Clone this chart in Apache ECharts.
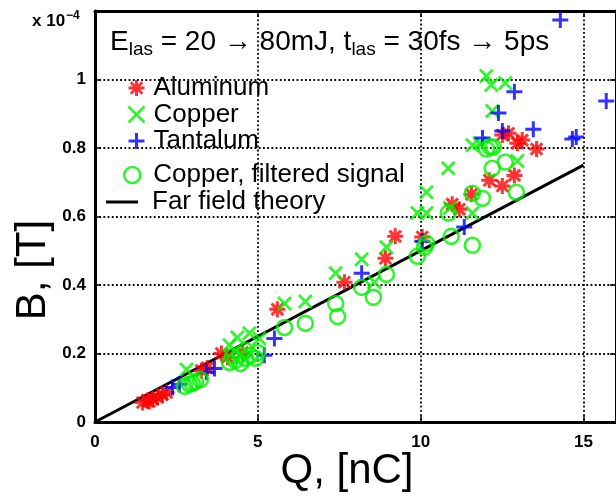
<!DOCTYPE html>
<html>
<head>
<meta charset="utf-8">
<script src="https://cdn.jsdelivr.net/npm/echarts@6/dist/echarts.min.js"></script>
<style>
  html, body { margin: 0; padding: 0; background: #fff; }
  #chart { width: 616px; height: 499px; }
</style>
</head>
<body>
<div id="chart"></div>
<script>
// Charge Q [nC] and field B [x 1e-4 T] per target material
const aluminumQ = [1.46, 1.61, 1.67, 1.77, 1.92, 2.07, 2.20, 3.27, 3.45, 3.88, 4.07, 4.53,
  5.60, 7.66, 8.92, 9.22, 10.05, 10.97, 11.19, 11.56, 12.11, 12.51, 12.88, 12.51, 12.70, 12.97, 13.12, 13.56];
const aluminumB = [0.057, 0.063, 0.060, 0.066, 0.072, 0.080, 0.086, 0.150, 0.158, 0.200, 0.189, 0.203,
  0.329, 0.408, 0.478, 0.542, 0.540, 0.636, 0.621, 0.665, 0.706, 0.689, 0.720, 0.838, 0.843, 0.814, 0.823, 0.797];

const copperQ = [2.81, 4.13, 4.37, 4.74, 5.05, 5.82, 6.46, 7.39, 8.19, 8.58, 8.95,
  9.90, 10.18, 10.18, 10.90, 10.85, 11.59, 11.59, 11.81, 12.02, 12.17, 12.60, 12.20, 12.97];
const copperB = [0.153, 0.224, 0.247, 0.259, 0.244, 0.346, 0.352, 0.434, 0.475, 0.408, 0.510,
  0.610, 0.610, 0.671, 0.625, 0.741, 0.610, 0.808, 0.814, 1.010, 0.984, 0.990, 0.908, 0.762];

const tantalumQ = [2.38, 2.59, 3.42, 3.67, 5.20, 5.51, 8.19, 10.05, 11.34,
  11.90, 12.39, 12.51, 12.88, 13.46, 14.29, 14.66, 14.78, 15.70];
const tantalumB = [0.101, 0.110, 0.145, 0.156, 0.195, 0.244, 0.434, 0.528, 0.569,
  0.829, 0.902, 0.850, 0.964, 0.855, 1.174, 0.826, 0.832, 0.937];

const filteredQ = [2.75, 2.90, 2.99, 3.09, 3.24, 4.13, 4.22, 4.31, 4.44, 4.47, 4.62, 4.62, 4.77, 4.93, 4.99,
  5.82, 6.46, 7.39, 7.45, 8.19, 8.55, 8.95, 9.90, 10.12, 10.18, 10.85, 10.94, 11.59, 11.59, 11.90,
  12.20, 12.60, 12.94, 12.02, 12.14, 12.23];
const filteredB = [0.104, 0.110, 0.113, 0.118, 0.124, 0.174, 0.191, 0.180, 0.197, 0.171, 0.186, 0.209, 0.194, 0.186, 0.203,
  0.276, 0.288, 0.346, 0.308, 0.393, 0.364, 0.431, 0.484, 0.510, 0.522, 0.610, 0.542, 0.516, 0.668, 0.653,
  0.741, 0.759, 0.671, 0.797, 0.803, 0.803];

// Far field theory: straight line through the origin
const theoryQ = [0, 15];
const theoryB = [0, 0.75];

const xTicks = [0, 5, 10, 15];
const yTicks = [0, 0.2, 0.4, 0.6, 0.8, 1];

const zip = (a, b) => a.map((v, i) => [v, b[i]]);

// Stroked marker shapes
const STAR = 'path://M0,-1L0,1M-1,0L1,0M-0.72,-0.72L0.72,0.72M-0.72,0.72L0.72,-0.72';
const CROSS = 'path://M-1,-1L1,1M-1,1L1,-1';
const PLUS = 'path://M0,-1L0,1M-1,0L1,0';

const RED = '#ff0000', GREEN = '#00f000', BLUE = '#0000ff';
const FONT = '"Liberation Sans", Arial, sans-serif';

const tickStyle = { show: true, inside: true, length: 6, lineStyle: { color: '#000', width: 1.5 } };
const frameLine = { show: true, onZero: false, lineStyle: { color: '#000', width: 3 } };
const dotted = { show: true, lineStyle: { color: '#000', width: 1.8, type: [1.8, 2.4] } };

const chart = echarts.init(document.getElementById('chart'), null, { renderer: 'canvas' });

chart.setOption({
  animation: false,
  backgroundColor: '#fff',
  grid: { left: 95, top: 11, width: 522, height: 411, containLabel: false },
  xAxis: [{
    type: 'value', min: 0, max: 16, interval: 5, position: 'bottom',
    axisLine: frameLine, axisTick: tickStyle, splitLine: dotted,
    axisLabel: {
      showMaxLabel: false, margin: 12, color: '#000', fontFamily: FONT, fontWeight: 'bold', fontSize: 17,
      formatter: v => (xTicks.indexOf(v) >= 0 ? String(v) : '')
    }
  }, {
    type: 'value', min: 0, max: 16, interval: 5, position: 'top',
    axisLine: frameLine, axisTick: tickStyle, splitLine: { show: false }, axisLabel: { show: false }
  }],
  yAxis: [{
    type: 'value', min: 0, max: 1.2, interval: 0.2, position: 'left',
    axisLine: frameLine, axisTick: tickStyle, splitLine: dotted,
    axisLabel: {
      showMaxLabel: false, margin: 9, color: '#000', fontFamily: FONT, fontWeight: 'bold', fontSize: 17,
      formatter: v => {
        const r = Math.round(v * 10) / 10;
        return yTicks.indexOf(r) >= 0 ? String(r) : '';
      }
    }
  }, {
    type: 'value', min: 0, max: 1.2, interval: 0.2, position: 'right',
    axisLine: frameLine, axisTick: tickStyle, splitLine: { show: false }, axisLabel: { show: false }
  }],
  legend: [{
    orient: 'vertical', left: 127, top: 75, padding: 0, itemGap: 0.5,
    itemWidth: 16, itemHeight: 16, selectedMode: false,
    textStyle: { fontFamily: FONT, fontSize: 26, color: '#000', lineHeight: 25, padding: [0, 0, 0, 4] },
    data: [
      { name: 'Aluminum', icon: STAR, itemStyle: { color: 'transparent', borderColor: RED, borderWidth: 3 } },
      { name: 'Copper', icon: CROSS, itemStyle: { color: 'transparent', borderColor: GREEN, borderWidth: 2.8 } },
      { name: 'Tantalum', icon: PLUS, itemStyle: { color: 'transparent', borderColor: BLUE, borderWidth: 3 } }
    ]
  }, {
    orient: 'vertical', left: 123, top: 162, padding: 0,
    itemWidth: 16, itemHeight: 16, selectedMode: false,
    textStyle: { fontFamily: FONT, fontSize: 26, color: '#000', lineHeight: 26, padding: [0, 0, 0, 8] },
    data: [
      { name: 'Copper, filtered signal', icon: 'circle', itemStyle: { color: 'transparent', borderColor: GREEN, borderWidth: 2.6 } }
    ]
  }, {
    orient: 'vertical', left: 106, top: 189, padding: 0,
    itemWidth: 32, itemHeight: 3, selectedMode: false,
    textStyle: { fontFamily: FONT, fontSize: 26, color: '#000', lineHeight: 26, padding: [0, 0, 0, 9] },
    data: [{ name: 'Far field theory', icon: 'rect', itemStyle: { color: '#000', borderWidth: 0 } }]
  }],
  graphic: [{
    type: 'text', left: 110, top: 26, silent: true,
    style: {
      text: '{n|E}{s|las}{n| = 20 → 80mJ, t}{s|las}{n| = 30fs → 5ps}',
      rich: {
        n: { fontFamily: FONT, fontSize: 28, fill: '#000', lineHeight: 35 },
        s: { fontFamily: FONT, fontSize: 19, fill: '#000', lineHeight: 21, padding: [14, 0, 0, 0] }
      }
    }
  }, {
    type: 'text', left: 32, top: 10, silent: true,
    style: {
      text: '{b|x 10}{p|−4}',
      rich: {
        b: { fontFamily: FONT, fontSize: 17, fontWeight: 'bold', fill: '#000', lineHeight: 24 },
        p: { fontFamily: FONT, fontSize: 12, fontWeight: 'bold', fill: '#000', lineHeight: 12, padding: [0, 0, 10, 1] }
      }
    }
  }, {
    type: 'text', x: 33, y: 270, rotation: Math.PI / 2, silent: true,
    style: { text: 'B, [T]', fontFamily: FONT, fontSize: 42, fill: '#000', align: 'center', verticalAlign: 'middle' }
  }, {
    type: 'text', x: 347, y: 471, silent: true,
    style: { text: 'Q, [nC]', fontFamily: FONT, fontSize: 42, fill: '#000', align: 'center', verticalAlign: 'middle' }
  }],
  series: [{
    name: 'Far field theory', type: 'line', xAxisIndex: 0, yAxisIndex: 0,
    data: zip(theoryQ, theoryB), symbol: 'none', showSymbol: false, z: 3,
    lineStyle: { color: '#000', width: 3 }, itemStyle: { color: '#000' }
  }, {
    name: 'Aluminum', type: 'scatter', data: zip(aluminumQ, aluminumB),
    symbol: STAR, symbolSize: 16, z: 4,
    itemStyle: { color: 'transparent', borderColor: RED, borderWidth: 3 }
  }, {
    name: 'Copper', type: 'scatter', data: zip(copperQ, copperB),
    symbol: CROSS, symbolSize: 13, z: 5,
    itemStyle: { color: 'transparent', borderColor: GREEN, borderWidth: 2.8 }
  }, {
    name: 'Tantalum', type: 'scatter', data: zip(tantalumQ, tantalumB),
    symbol: PLUS, symbolSize: 16, z: 6,
    itemStyle: { color: 'transparent', borderColor: BLUE, borderWidth: 3 }
  }, {
    name: 'Copper, filtered signal', type: 'scatter', data: zip(filteredQ, filteredB),
    symbol: 'circle', symbolSize: 15, z: 7,
    itemStyle: { color: 'transparent', borderColor: GREEN, borderWidth: 2.6 }
  }]
});
</script>
</body>
</html>
